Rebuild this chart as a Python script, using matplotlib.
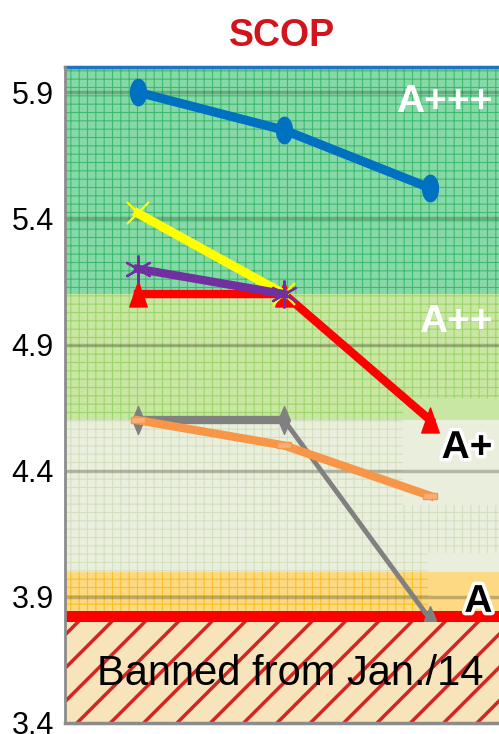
import matplotlib
matplotlib.use("Agg")
import matplotlib.pyplot as plt
import matplotlib.patheffects as pe
from matplotlib.path import Path
import numpy as np

plt.rcParams['font.family'] = ['Liberation Sans', 'DejaVu Sans']

# ---- data ----
positions = [0, 1, 2]
blue = [5.90, 5.75, 5.52]
yellow = [5.42, 5.10]
purple = [5.20, 5.10]
red = [5.10, 5.10, 4.60]
gray = [4.60, 4.60, 3.81]
orange = [4.60, 4.50, 4.30]

y_ticks = [3.4, 3.9, 4.4, 4.9, 5.4, 5.9]

# energy classes: (low, high, fill, grid colour)
classes = [
    (5.10, 6.00, '#86d9a7', '#3cba6e'),
    (4.60, 5.10, '#c8e7a2', '#9ed46c'),
    (4.00, 4.60, '#e9efdc', '#d3dfbf'),
    (3.844, 4.00, '#fdd983', '#f8c020'),
]
class_labels = ['A+++', 'A++', 'A+', 'A']
label_y = [5.86, 4.99, 4.49, 3.88]
label_white = [True, True, False, False]


def band(ax, lo, hi, face, edge=None, hatch=None, hlw=0.8, xmin=0, xmax=1, z=0):
    with plt.rc_context({'hatch.linewidth': hlw}):
        r = ax.axhspan(lo, hi, xmin=xmin, xmax=xmax, facecolor=face,
                       edgecolor=edge if edge else face, hatch=hatch,
                       linewidth=0, zorder=z)
        if hasattr(r, 'set_hatch_linewidth'):
            r.set_hatch_linewidth(hlw)
    return r


# custom markers
t = np.linspace(0, 2 * np.pi, 40)
ellipse = Path(np.column_stack([0.6 * np.cos(t), np.sin(t)]), closed=True)
tri = Path([(-0.7, -1), (0.7, -1), (0, 1), (-0.7, -1)], closed=True)
diamond = Path([(0, 1), (0.42, 0), (0, -1), (-0.42, 0), (0, 1)], closed=True)
rect = Path([(-1, -0.4), (1, -0.4), (1, 0.4), (-1, 0.4), (-1, -0.4)], closed=True)

fig = plt.figure(figsize=(4.99, 7.34), dpi=100)
ax = fig.add_axes([0.130, 0.015, 0.87, 0.8937])

for lo, hi, face, grid in classes:
    band(ax, lo, hi, face, grid, hatch='++', hlw=0.8)

# plain areas behind the class labels
band(ax, 4.60, 4.688, '#c8e7a2', xmin=0.779, z=0.1)
band(ax, 4.264, 4.60, '#e9efdc', xmin=0.779, z=0.1)
band(ax, 4.00, 4.074, '#e9efdc', xmin=0.836, z=0.1)
band(ax, 3.844, 4.00, '#fdd983', xmin=0.836, z=0.1)

# banned zone
band(ax, 3.80, 3.844, '#ff0000', z=0.2)
band(ax, 3.40, 3.80, '#f7e4bb', '#d42424', hatch='/', hlw=2.5, z=5)

for yv in y_ticks[1:]:
    ax.axhline(yv, color='#3a3a2a', alpha=0.3, lw=2.5, zorder=0.5)
ax.axhline(6.0, color='#1f72c4', lw=2.5, zorder=6, clip_on=False)

# series
ax.plot(positions, gray, color='#808080', lw=3.5, zorder=3,
        marker=diamond, markersize=20, mfc='#808080', mec='#808080')
ax.plot(positions[:2], gray[:2], color='#808080', lw=6, zorder=3)
ax.plot(positions, orange, color='#f79646', lw=6, zorder=3.2,
        marker=rect, markersize=10, mfc='#fbb07c', mec='#f79646', mew=1)
ax.plot(positions, red, color='#ff0000', lw=6, zorder=3.4,
        marker=tri, markersize=18, mfc='#ff0000', mec='#ff0000')
ax.plot(positions[:2], yellow, color='#ffff00', lw=6.5, zorder=3.5,
        marker='x', markersize=16, mew=1.6, mec='#ffff00')
ax.plot(positions[:2], purple, color='#7030a0', lw=6, zorder=3.6,
        marker=(6, 2, 0), markersize=20, mew=1.6, mec='#7030a0')
ax.plot(positions, blue, color='#0070c0', lw=6.5, zorder=4,
        marker=ellipse, markersize=19, mfc='#0070c0', mec='#0070c0')

# class labels
tr = ax.get_yaxis_transform()
for lab, yv, white in zip(class_labels, label_y, label_white):
    if white:
        ax.text(0.985, yv, lab, transform=tr, ha='right', va='center',
                fontsize=28, fontweight='bold', color='white', zorder=7)
    else:
        ax.text(0.985, yv, lab, transform=tr, ha='right', va='center',
                fontsize=28, fontweight='bold', color='black', zorder=7,
                path_effects=[pe.withStroke(linewidth=5, foreground='white')])

ax.text(0.52, 3.594, 'Banned from Jan./14', transform=tr, ha='center',
        va='center', fontsize=30, color='black', zorder=7)

ax.set_title('SCOP', fontsize=27, fontweight='bold', color='#d2141c', pad=15)

ax.set_xlim(-0.5, 2.47)
ax.set_ylim(3.4, 6.0)
ax.set_xticks([])
ax.set_yticks(y_ticks)
ax.set_yticklabels([f'{v:.1f}' for v in y_ticks])
ax.tick_params(axis='y', length=0, pad=8, labelsize=22)
for s in ['top', 'right']:
    ax.spines[s].set_visible(False)
ax.spines['left'].set_color('#8c8c8c')
ax.spines['left'].set_linewidth(2)
ax.spines['bottom'].set_color('#8c8c8c')
ax.spines['bottom'].set_linewidth(2.5)
ax.spines['left'].set_zorder(8)
ax.spines['bottom'].set_zorder(8)

fig.savefig('out.png', dpi=100)
